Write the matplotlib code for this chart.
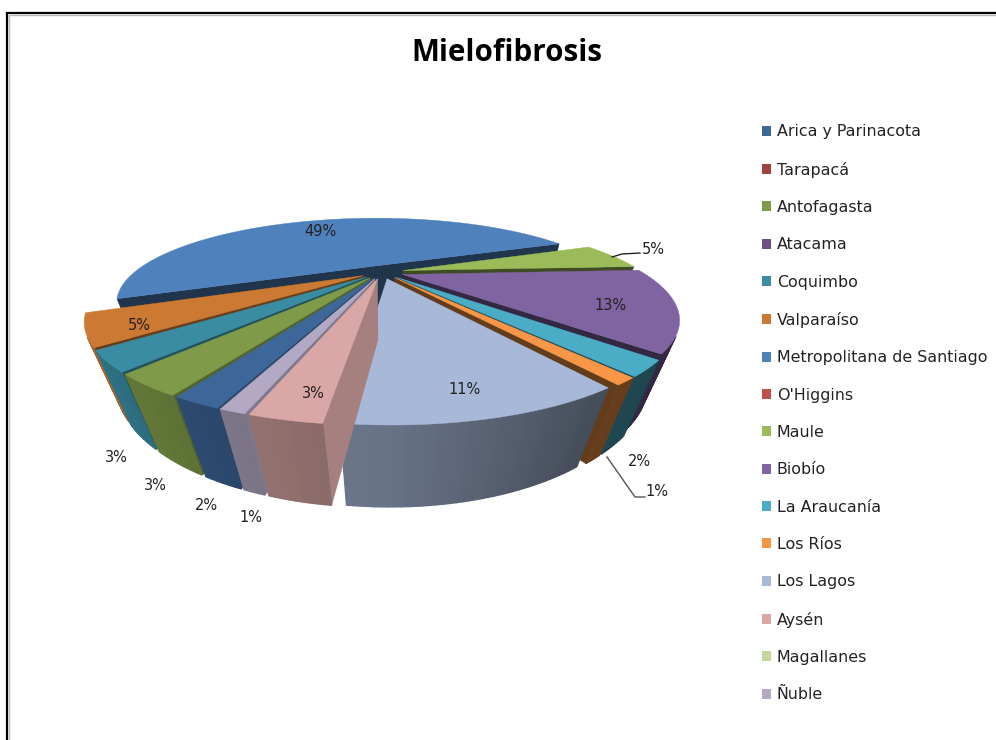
import numpy as np
import matplotlib
matplotlib.use("Agg")
import matplotlib.pyplot as plt
from matplotlib.patches import Patch, Polygon

regiones = ["Arica y Parinacota", "Tarapacá", "Antofagasta", "Atacama", "Coquimbo", "Valparaíso",
            "Metropolitana de Santiago", "O'Higgins", "Maule", "Biobío", "La Araucanía", "Los Ríos",
            "Los Lagos", "Aysén", "Magallanes", "Ñuble"]
valores = [1.9, 0, 3.0, 0, 2.9, 4.9, 49.4, 0, 5.2, 13.4, 2.2, 1.0, 10.6, 2.7, 0, 1.0]
colores = ["#3D6699", "#A04040", "#7F9A48", "#6A5185", "#3A8CA3", "#CC7A33", "#4F81BD", "#C0504D",
           "#9BBB59", "#8064A2", "#4BACC6", "#F79646", "#A7B8D8", "#D9A7A5", "#C3D69B", "#B3A9C5"]

# posicion de cada etiqueta en pixeles, por indice de region
pos_etiquetas = {0: (206, 506), 2: (155, 486), 4: (116, 458), 5: (139, 325), 6: (320, 232),
                 8: (653, 250), 9: (610, 305), 10: (639, 461), 11: (657, 492), 12: (465, 390),
                 13: (313, 394), 15: (251, 517)}

# camara: perspectiva del pastel 3D
cx, cy = 382, 272
A, B, C = 78, 255, 65
k, m = 0.468, 0.095
radio, sep = 0.94, 0.085
inicio = 250
vc = 1 / (k + m * A / C)

def proy(u, v, h):
    w = 1 - k * v + m * h
    return cx + B * u / w, cy + (A * v + C * h) / w

def oscurecer(color, f):
    return tuple(c * f for c in matplotlib.colors.to_rgb(color))

def tono_borde(t):
    return np.interp(t % 360, [150, 210, 240, 260, 270, 300, 320, 400], [.9, .85, .75, .65, .62, .42, .4, .4])

def tono_corte(n):
    return np.interp(n % 360, [200, 294, 342, 360], [.4, .4, .7, .8])

plt.rcParams["font.family"] = "DejaVu Sans"
fig = plt.figure(figsize=(9.96, 7.4), dpi=100)
ax = fig.add_axes([0, 0, 1, 1])
ax.set_xlim(0, 996)
ax.set_ylim(740, 0)
ax.axis("off")

# angulos de cada porcion, en sentido horario
total = sum(valores)
porciones = []
ang = inicio
for i, val in enumerate(valores):
    if val == 0:
        continue
    fin = ang - val * 360 / total
    porciones.append((i, ang, fin))
    ang = fin

def dist(p):
    med = np.radians((p[1] + p[2]) / 2)
    return np.hypot(0.5 * np.cos(med), -0.5 * np.sin(med) - vc)

# de atras hacia adelante
z = 2
for i, t0, t1 in sorted(porciones, key=dist, reverse=True):
    col = colores[i]
    med = np.radians((t0 + t1) / 2)
    ou, ov = sep * np.cos(med), -sep * np.sin(med)
    arco = np.radians(np.linspace(t0, t1, max(int(t0 - t1), 2) + 1))
    us = ou + radio * np.cos(arco)
    vs = ov - radio * np.sin(arco)

    # caras de corte
    for n, eu, ev in ((t0 + 90, us[0], vs[0]), (t1 - 90, us[-1], vs[-1])):
        nr = np.radians(n)
        if np.cos(nr) * (0 - ou) - np.sin(nr) * (vc - ov) <= 0:
            continue
        pts = [proy(ou, ov, 0), proy(eu, ev, 0), proy(eu, ev, 1), proy(ou, ov, 1)]
        c = oscurecer(col, tono_corte(n))
        ax.add_patch(Polygon(pts, closed=True, fc=c, ec=c, lw=0.3, zorder=z))
        z += 1

    # borde exterior, con degradado
    for j in range(len(arco) - 1):
        a = (arco[j] + arco[j + 1]) / 2
        if np.cos(a) * (0 - us[j]) - np.sin(a) * (vc - vs[j]) <= 0:
            continue
        pts = [proy(us[j], vs[j], 0), proy(us[j + 1], vs[j + 1], 0),
               proy(us[j + 1], vs[j + 1], 1), proy(us[j], vs[j], 1)]
        c = oscurecer(col, tono_borde(np.degrees(a)))
        ax.add_patch(Polygon(pts, closed=True, fc=c, ec=c, lw=1.0, zorder=z))
    z += 1

    # cara superior
    pts = [proy(ou, ov, 0)] + [proy(a, b, 0) for a, b in zip(us, vs)]
    ax.add_patch(Polygon(pts, closed=True, fc=col, ec=col, lw=0.3, zorder=z))
    z += 1

# etiquetas
for i, (x, y) in pos_etiquetas.items():
    ax.text(x, y, "%d%%" % round(valores[i]), fontsize=10.5, color="#222222", ha="center", va="center", zorder=500)

# lineas guia
ax.plot([612, 622, 640], [257, 254, 253], color="#222222", lw=1, zorder=400)
ax.plot([607, 635, 645], [457, 497, 497], color="#555555", lw=1, zorder=400)

ax.text(507, 53, "Mielofibrosis", fontsize=21.3, fontweight="bold", family="Open Sans", ha="center", va="center", color="black")

# marco
ax.plot([8.5, 8.5, 996], [740, 14.5, 14.5], color="#bbbbbb", lw=1, solid_joinstyle="miter")
ax.plot([7, 7, 996], [740, 13, 13], color="black", lw=1.6, solid_joinstyle="miter")

handles = [Patch(fc=c, ec="none") for c in colores]
ax.legend(handles, regiones, loc="upper left", bbox_to_anchor=(0.765, 0.832), frameon=False, fontsize=11.4,
          handlelength=0.6, handleheight=0.6, handletextpad=0.35, labelspacing=1.41, borderpad=0, borderaxespad=0,
          labelcolor="#222222")

fig.savefig("out.png", dpi=100)
